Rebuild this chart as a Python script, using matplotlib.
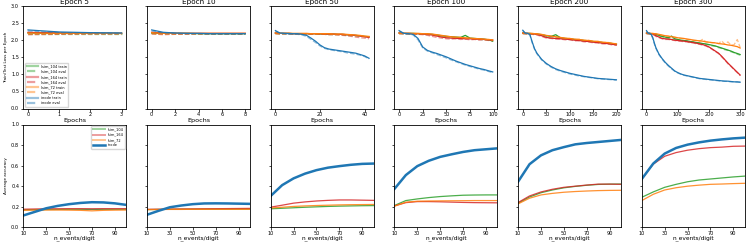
import matplotlib
matplotlib.use("Agg")
import matplotlib.pyplot as plt
from matplotlib.lines import Line2D

# ---------------- data ----------------
titles = ["Epoch 5", "Epoch 10", "Epoch 50", "Epoch 100", "Epoch 200", "Epoch 300"]
models = ["lsim_104", "lsim_164", "lsim_72", "inode"]
colors = ["#2ca02c", "#d62728", "#ff7f0e", "#1f77b4"]

# Epoch 5 losses
e5_x = [0, 1, 2, 3]
e5_lsim104_train = [2.21, 2.20, 2.20, 2.20]
e5_lsim104_eval = [2.19, 2.19, 2.19, 2.19]
e5_lsim164_train = [2.23, 2.21, 2.20, 2.20]
e5_lsim164_eval = [2.16, 2.17, 2.18, 2.18]
e5_lsim72_train = [2.21, 2.20, 2.20, 2.20]
e5_lsim72_eval = [2.17, 2.18, 2.18, 2.18]
e5_inode_train = [2.30, 2.24, 2.22, 2.21]
e5_inode_eval = [2.27, 2.22, 2.21, 2.20]

# Epoch 10 losses
e10_x = [0, 1, 2, 3, 4, 5, 6, 7, 8]
e10_lsim104_train = [2.21, 2.20, 2.20, 2.20, 2.19, 2.19, 2.19, 2.19, 2.19]
e10_lsim104_eval = [2.19, 2.18, 2.18, 2.18, 2.18, 2.17, 2.17, 2.17, 2.17]
e10_lsim164_train = [2.23, 2.21, 2.20, 2.20, 2.20, 2.20, 2.20, 2.20, 2.20]
e10_lsim164_eval = [2.18, 2.16, 2.17, 2.17, 2.18, 2.18, 2.18, 2.18, 2.18]
e10_lsim72_train = [2.22, 2.20, 2.20, 2.20, 2.20, 2.20, 2.20, 2.20, 2.20]
e10_lsim72_eval = [2.19, 2.17, 2.17, 2.18, 2.18, 2.18, 2.18, 2.18, 2.18]
e10_inode_train = [2.30, 2.23, 2.21, 2.20, 2.20, 2.19, 2.19, 2.19, 2.19]
e10_inode_eval = [2.27, 2.21, 2.20, 2.19, 2.19, 2.18, 2.18, 2.18, 2.18]

# Epoch 50 losses
e50_x = [0, 2, 4, 6, 8, 10, 12, 14, 16, 18, 20, 22, 24, 26, 28, 30, 32, 34, 36, 38, 40, 42]
e50_lsim104_train = [2.21, 2.20, 2.20, 2.20, 2.19, 2.19, 2.19, 2.19, 2.19, 2.19, 2.18, 2.18, 2.18, 2.18, 2.17, 2.17, 2.16, 2.15, 2.14, 2.13, 2.11, 2.10]
e50_lsim104_eval = [2.19, 2.18, 2.18, 2.18, 2.18, 2.18, 2.18, 2.17, 2.17, 2.17, 2.17, 2.17, 2.16, 2.16, 2.16, 2.15, 2.14, 2.13, 2.12, 2.11, 2.10, 2.08]
e50_lsim164_train = [2.21, 2.20, 2.20, 2.20, 2.19, 2.19, 2.19, 2.19, 2.19, 2.19, 2.19, 2.18, 2.18, 2.18, 2.17, 2.17, 2.16, 2.15, 2.14, 2.12, 2.10, 2.08]
e50_lsim164_eval = [2.19, 2.18, 2.18, 2.18, 2.18, 2.18, 2.18, 2.18, 2.17, 2.18, 2.17, 2.17, 2.16, 2.16, 2.15, 2.14, 2.13, 2.11, 2.09, 2.07, 2.06, 2.04]
e50_lsim72_train = [2.21, 2.20, 2.20, 2.20, 2.20, 2.20, 2.20, 2.20, 2.19, 2.19, 2.19, 2.19, 2.19, 2.18, 2.18, 2.18, 2.17, 2.16, 2.15, 2.14, 2.12, 2.11]
e50_lsim72_eval = [2.19, 2.18, 2.18, 2.19, 2.18, 2.18, 2.18, 2.18, 2.18, 2.17, 2.18, 2.17, 2.17, 2.17, 2.16, 2.16, 2.15, 2.14, 2.13, 2.12, 2.11, 2.09]
e50_inode_train = [2.28, 2.21, 2.20, 2.19, 2.19, 2.19, 2.17, 2.14, 2.06, 1.97, 1.86, 1.78, 1.74, 1.72, 1.70, 1.68, 1.66, 1.64, 1.62, 1.58, 1.54, 1.47]
e50_inode_eval = [2.26, 2.20, 2.19, 2.18, 2.18, 2.17, 2.15, 2.11, 2.02, 1.93, 1.83, 1.76, 1.72, 1.70, 1.68, 1.66, 1.63, 1.61, 1.59, 1.56, 1.52, 1.45]

# Epoch 100 losses
e100_x = [0, 5, 10, 15, 20, 25, 30, 35, 40, 45, 50, 55, 60, 65, 70, 75, 80, 85, 90, 95, 99]
e100_lsim104_train = [2.21, 2.20, 2.20, 2.20, 2.19, 2.19, 2.18, 2.17, 2.15, 2.13, 2.11, 2.10, 2.09, 2.08, 2.14, 2.06, 2.05, 2.04, 2.03, 2.01, 1.97]
e100_lsim104_eval = [2.19, 2.18, 2.18, 2.18, 2.18, 2.17, 2.16, 2.15, 2.13, 2.11, 2.10, 2.08, 2.07, 2.06, 2.05, 2.05, 2.03, 2.02, 2.01, 2.00, 1.98]
e100_lsim164_train = [2.21, 2.20, 2.20, 2.19, 2.19, 2.18, 2.17, 2.15, 2.12, 2.09, 2.07, 2.06, 2.05, 2.05, 2.04, 2.04, 2.03, 2.03, 2.02, 2.01, 2.00]
e100_lsim164_eval = [2.19, 2.18, 2.18, 2.18, 2.17, 2.16, 2.14, 2.11, 2.08, 2.06, 2.04, 2.03, 2.04, 2.02, 2.03, 2.01, 2.02, 2.00, 2.01, 1.99, 1.98]
e100_lsim72_train = [2.21, 2.20, 2.20, 2.20, 2.20, 2.19, 2.19, 2.18, 2.16, 2.14, 2.12, 2.10, 2.09, 2.08, 2.07, 2.06, 2.05, 2.04, 2.03, 2.02, 2.01]
e100_lsim72_eval = [2.19, 2.19, 2.18, 2.18, 2.18, 2.18, 2.17, 2.16, 2.14, 2.12, 2.10, 2.09, 2.07, 2.08, 2.05, 2.06, 2.03, 2.04, 2.01, 2.02, 1.99]
e100_inode_train = [2.28, 2.20, 2.19, 2.17, 2.05, 1.80, 1.70, 1.65, 1.61, 1.56, 1.51, 1.45, 1.39, 1.34, 1.29, 1.25, 1.21, 1.17, 1.14, 1.10, 1.07]
e100_inode_eval = [2.26, 2.19, 2.18, 2.15, 2.01, 1.77, 1.68, 1.63, 1.58, 1.53, 1.48, 1.42, 1.37, 1.32, 1.27, 1.23, 1.19, 1.15, 1.12, 1.08, 1.05]

# Epoch 200 losses
e200_x = [0, 5, 10, 15, 20, 25, 30, 40, 50, 60, 70, 80, 90, 100, 110, 120, 130, 140, 150, 160, 170, 180, 190, 199]
e200_lsim104_train = [2.21, 2.20, 2.20, 2.20, 2.19, 2.19, 2.18, 2.16, 2.13, 2.11, 2.16, 2.07, 2.05, 2.04, 2.02, 2.01, 1.99, 1.98, 1.96, 1.95, 1.93, 1.92, 1.90, 1.88]
e200_lsim104_eval = [2.19, 2.19, 2.18, 2.18, 2.18, 2.17, 2.17, 2.14, 2.11, 2.09, 2.08, 2.05, 2.04, 2.02, 2.01, 1.99, 1.98, 1.96, 1.95, 1.93, 1.92, 1.90, 1.89, 1.87]
e200_lsim164_train = [2.21, 2.20, 2.20, 2.19, 2.19, 2.18, 2.17, 2.13, 2.08, 2.06, 2.05, 2.04, 2.03, 2.02, 2.00, 1.99, 1.97, 1.96, 1.94, 1.93, 1.91, 1.90, 1.88, 1.86]
e200_lsim164_eval = [2.19, 2.18, 2.18, 2.18, 2.17, 2.16, 2.15, 2.11, 2.06, 2.05, 2.03, 2.03, 2.01, 2.01, 1.98, 1.98, 1.95, 1.95, 1.92, 1.92, 1.89, 1.89, 1.86, 1.85]
e200_lsim72_train = [2.21, 2.20, 2.20, 2.20, 2.20, 2.19, 2.19, 2.17, 2.14, 2.12, 2.10, 2.08, 2.06, 2.05, 2.03, 2.02, 2.00, 1.99, 1.97, 1.96, 1.94, 1.93, 1.91, 1.89]
e200_lsim72_eval = [2.19, 2.19, 2.18, 2.19, 2.18, 2.18, 2.17, 2.16, 2.13, 2.11, 2.09, 2.08, 2.05, 2.05, 2.02, 2.03, 1.99, 2.00, 1.96, 1.97, 1.93, 1.94, 1.90, 1.90]
e200_inode_train = [2.29, 2.21, 2.20, 2.17, 1.95, 1.75, 1.62, 1.44, 1.32, 1.23, 1.16, 1.11, 1.07, 1.03, 1.00, 0.97, 0.94, 0.92, 0.90, 0.88, 0.87, 0.86, 0.85, 0.84]
e200_inode_eval = [2.27, 2.20, 2.19, 2.15, 1.92, 1.73, 1.60, 1.42, 1.30, 1.21, 1.14, 1.09, 1.05, 1.01, 0.98, 0.95, 0.93, 0.91, 0.89, 0.87, 0.86, 0.85, 0.84, 0.83]

# Epoch 300 losses
e300_x = [0, 5, 10, 15, 20, 25, 30, 40, 50, 60, 70, 80, 90, 100, 110, 120, 130, 140, 150, 160, 170, 180, 190, 200, 210, 220, 230, 240, 250, 260, 270, 280, 290, 299]
e300_lsim104_train = [2.21, 2.20, 2.20, 2.19, 2.19, 2.18, 2.17, 2.14, 2.11, 2.09, 2.07, 2.12, 2.04, 2.02, 2.00, 1.99, 1.98, 1.96, 1.95, 1.93, 1.92, 1.90, 1.89, 1.87, 1.85, 1.83, 1.80, 1.77, 1.74, 1.71, 1.68, 1.64, 1.61, 1.58]
e300_lsim104_eval = [2.19, 2.19, 2.18, 2.18, 2.17, 2.17, 2.15, 2.12, 2.10, 2.07, 2.06, 2.04, 2.03, 2.01, 1.99, 1.98, 1.96, 1.95, 1.93, 1.92, 1.90, 1.89, 1.87, 1.86, 1.83, 1.82, 1.78, 1.76, 1.72, 1.70, 1.66, 1.63, 1.59, 1.56]
e300_lsim164_train = [2.21, 2.20, 2.20, 2.19, 2.18, 2.16, 2.13, 2.09, 2.05, 2.04, 2.03, 2.02, 2.00, 1.99, 1.98, 1.97, 1.96, 1.94, 1.93, 1.91, 1.89, 1.87, 1.84, 1.80, 1.74, 1.68, 1.62, 1.53, 1.43, 1.33, 1.24, 1.15, 1.06, 0.98]
e300_lsim164_eval = [2.19, 2.18, 2.18, 2.17, 2.16, 2.14, 2.11, 2.07, 2.04, 2.02, 2.02, 2.00, 1.99, 1.97, 1.97, 1.95, 1.95, 1.92, 1.92, 1.89, 1.88, 1.85, 1.83, 1.78, 1.73, 1.66, 1.61, 1.51, 1.42, 1.31, 1.23, 1.13, 1.05, 0.96]
e300_lsim72_train = [2.21, 2.20, 2.20, 2.20, 2.20, 2.19, 2.19, 2.17, 2.15, 2.13, 2.12, 2.10, 2.09, 2.07, 2.06, 2.05, 2.03, 2.02, 2.00, 1.99, 1.98, 1.97, 1.95, 1.94, 1.93, 1.92, 1.90, 1.89, 1.88, 1.86, 1.85, 1.83, 1.81, 1.77]
e300_lsim72_eval = [2.19, 2.19, 2.18, 2.19, 2.18, 2.18, 2.17, 2.16, 2.14, 2.12, 2.11, 2.09, 2.08, 2.07, 2.05, 2.04, 2.03, 2.01, 2.00, 1.99, 1.97, 2.03, 1.95, 1.94, 1.92, 1.93, 1.90, 1.98, 1.88, 1.95, 1.85, 1.87, 2.02, 1.79]
e300_inode_train = [2.28, 2.21, 2.20, 2.17, 2.08, 1.92, 1.78, 1.59, 1.46, 1.35, 1.26, 1.18, 1.10, 1.05, 1.01, 0.98, 0.96, 0.94, 0.92, 0.90, 0.88, 0.87, 0.86, 0.85, 0.84, 0.83, 0.82, 0.81, 0.80, 0.80, 0.79, 0.78, 0.78, 0.77]
e300_inode_eval = [2.26, 2.20, 2.19, 2.15, 2.05, 1.89, 1.76, 1.57, 1.44, 1.33, 1.24, 1.16, 1.09, 1.04, 1.00, 0.97, 0.95, 0.93, 0.91, 0.89, 0.87, 0.86, 0.85, 0.84, 0.83, 0.82, 0.81, 0.80, 0.80, 0.79, 0.78, 0.78, 0.77, 0.77]

# accuracy vs n_events/digit
n_events = [10, 20, 30, 40, 50, 60, 70, 80, 90, 100]
acc_e5_lsim104 = [0.170, 0.172, 0.173, 0.174, 0.175, 0.175, 0.174, 0.175, 0.175, 0.175]
acc_e5_lsim164 = [0.176, 0.178, 0.180, 0.180, 0.181, 0.181, 0.180, 0.181, 0.181, 0.181]
acc_e5_lsim72 = [0.165, 0.167, 0.168, 0.168, 0.167, 0.165, 0.160, 0.165, 0.167, 0.168]
acc_e5_inode = [0.115, 0.150, 0.185, 0.208, 0.225, 0.237, 0.244, 0.242, 0.233, 0.218]
acc_e10_lsim104 = [0.172, 0.174, 0.175, 0.176, 0.176, 0.177, 0.177, 0.177, 0.178, 0.178]
acc_e10_lsim164 = [0.175, 0.176, 0.177, 0.178, 0.179, 0.180, 0.181, 0.182, 0.183, 0.184]
acc_e10_lsim72 = [0.172, 0.173, 0.174, 0.174, 0.175, 0.175, 0.175, 0.175, 0.175, 0.175]
acc_e10_inode = [0.122, 0.160, 0.195, 0.212, 0.225, 0.232, 0.233, 0.232, 0.230, 0.228]
acc_e50_lsim104 = [0.180, 0.185, 0.190, 0.195, 0.199, 0.203, 0.206, 0.208, 0.210, 0.211]
acc_e50_lsim164 = [0.196, 0.215, 0.235, 0.247, 0.256, 0.262, 0.266, 0.266, 0.264, 0.262]
acc_e50_lsim72 = [0.188, 0.195, 0.203, 0.208, 0.212, 0.215, 0.218, 0.220, 0.221, 0.222]
acc_e50_inode = [0.305, 0.410, 0.476, 0.522, 0.556, 0.580, 0.595, 0.608, 0.617, 0.620]
acc_e100_lsim104 = [0.212, 0.260, 0.276, 0.289, 0.299, 0.306, 0.312, 0.314, 0.315, 0.315]
acc_e100_lsim164 = [0.208, 0.240, 0.250, 0.250, 0.248, 0.245, 0.242, 0.240, 0.239, 0.238]
acc_e100_lsim72 = [0.205, 0.244, 0.254, 0.256, 0.257, 0.258, 0.259, 0.260, 0.260, 0.260]
acc_e100_inode = [0.373, 0.508, 0.595, 0.647, 0.685, 0.710, 0.733, 0.750, 0.759, 0.768]
acc_e200_lsim104 = [0.235, 0.295, 0.336, 0.363, 0.384, 0.398, 0.409, 0.417, 0.420, 0.421]
acc_e200_lsim164 = [0.241, 0.305, 0.344, 0.370, 0.389, 0.400, 0.411, 0.420, 0.420, 0.418]
acc_e200_lsim72 = [0.228, 0.283, 0.315, 0.330, 0.341, 0.348, 0.353, 0.357, 0.359, 0.360]
acc_e200_inode = [0.444, 0.614, 0.700, 0.750, 0.780, 0.807, 0.820, 0.830, 0.840, 0.850]
acc_e300_lsim104 = [0.292, 0.344, 0.389, 0.418, 0.443, 0.460, 0.470, 0.480, 0.490, 0.498]
acc_e300_lsim164 = [0.470, 0.614, 0.691, 0.727, 0.750, 0.765, 0.775, 0.780, 0.788, 0.790]
acc_e300_lsim72 = [0.260, 0.321, 0.363, 0.385, 0.400, 0.410, 0.418, 0.421, 0.425, 0.428]
acc_e300_inode = [0.470, 0.620, 0.717, 0.772, 0.804, 0.826, 0.843, 0.855, 0.865, 0.872]

loss_x = [e5_x, e10_x, e50_x, e100_x, e200_x, e300_x]
loss_series = [
    [e5_lsim104_train, e5_lsim104_eval, e5_lsim164_train, e5_lsim164_eval, e5_lsim72_train, e5_lsim72_eval, e5_inode_train, e5_inode_eval],
    [e10_lsim104_train, e10_lsim104_eval, e10_lsim164_train, e10_lsim164_eval, e10_lsim72_train, e10_lsim72_eval, e10_inode_train, e10_inode_eval],
    [e50_lsim104_train, e50_lsim104_eval, e50_lsim164_train, e50_lsim164_eval, e50_lsim72_train, e50_lsim72_eval, e50_inode_train, e50_inode_eval],
    [e100_lsim104_train, e100_lsim104_eval, e100_lsim164_train, e100_lsim164_eval, e100_lsim72_train, e100_lsim72_eval, e100_inode_train, e100_inode_eval],
    [e200_lsim104_train, e200_lsim104_eval, e200_lsim164_train, e200_lsim164_eval, e200_lsim72_train, e200_lsim72_eval, e200_inode_train, e200_inode_eval],
    [e300_lsim104_train, e300_lsim104_eval, e300_lsim164_train, e300_lsim164_eval, e300_lsim72_train, e300_lsim72_eval, e300_inode_train, e300_inode_eval],
]
acc_series = [
    [acc_e5_lsim104, acc_e5_lsim164, acc_e5_lsim72, acc_e5_inode],
    [acc_e10_lsim104, acc_e10_lsim164, acc_e10_lsim72, acc_e10_inode],
    [acc_e50_lsim104, acc_e50_lsim164, acc_e50_lsim72, acc_e50_inode],
    [acc_e100_lsim104, acc_e100_lsim164, acc_e100_lsim72, acc_e100_inode],
    [acc_e200_lsim104, acc_e200_lsim164, acc_e200_lsim72, acc_e200_inode],
    [acc_e300_lsim104, acc_e300_lsim164, acc_e300_lsim72, acc_e300_inode],
]
loss_xticks = [[0, 1, 2, 3], [0, 2, 4, 6, 8], [0, 20, 40], [0, 25, 50, 75, 100], [0, 50, 100, 150, 200], [0, 100, 200, 300]]

# ---------------- plot ----------------
plt.rcParams.update({
    "font.size": 3.6,
    "axes.linewidth": 0.6,
    "xtick.major.size": 1.8,
    "ytick.major.size": 1.8,
    "xtick.major.width": 0.5,
    "ytick.major.width": 0.5,
    "xtick.major.pad": 0.6,
    "ytick.major.pad": 1.2,
    "xtick.labelsize": 3.6,
    "ytick.labelsize": 3.6,
})

W, H = 747, 242
fig = plt.figure(figsize=(W / 100, H / 100), dpi=100)
col_left = [23.3 + i * 123.7 for i in range(6)]
aw = 103.0
top_y0, top_y1 = 6.0, 108.5
bot_y0, bot_y1 = 124.5, 227.3

for i in range(6):
    ax = fig.add_axes([col_left[i] / W, 1 - top_y1 / H, aw / W, (top_y1 - top_y0) / H])
    xs = loss_x[i]
    for k, m in enumerate(models):
        ax.plot(xs, loss_series[i][2 * k], color=colors[k], lw=0.9, ls="-")
        ax.plot(xs, loss_series[i][2 * k + 1], color=colors[k], lw=0.9, ls="--", alpha=0.5)
    ax.set_ylim(0, 3.0)
    ax.set_yticks([0.0, 0.5, 1.0, 1.5, 2.0, 2.5, 3.0])
    ax.set_xticks(loss_xticks[i])
    ax.set_title(titles[i], fontsize=5.2, pad=1.5)
    ax.set_xlabel("Epochs", fontsize=4.6, labelpad=0.8)
    if i == 0:
        ax.set_ylabel("Train/Test Loss per Epoch", fontsize=3.0, labelpad=2)
        handles = []
        labels = []
        for k, m in enumerate(models):
            handles.append(Line2D([], [], color=colors[k], lw=1.6, ls="-", alpha=0.45))
            labels.append(m + " train")
            handles.append(Line2D([], [], color=colors[k], lw=1.6, ls="--", alpha=0.45))
            labels.append(m + " eval")
        ax.legend(handles, labels, loc="lower left", fontsize=2.6, handlelength=3.2,
                  labelspacing=0.35, borderpad=0.4, handletextpad=0.8, framealpha=0.8,
                  edgecolor="#cccccc", fancybox=True)
    else:
        ax.tick_params(labelleft=False)

for i in range(6):
    ax = fig.add_axes([col_left[i] / W, 1 - bot_y1 / H, aw / W, (bot_y1 - bot_y0) / H])
    for k, m in enumerate(models):
        if m == "inode":
            ax.plot(n_events, acc_series[i][k], color=colors[k], lw=1.8, label=m)
        else:
            ax.plot(n_events, acc_series[i][k], color=colors[k], lw=0.9, alpha=0.85, label=m)
    ax.set_xlim(10, 100)
    ax.set_ylim(0, 1.0)
    ax.set_xticks([10, 30, 50, 70, 90])
    ax.set_yticks([0.0, 0.2, 0.4, 0.6, 0.8, 1.0])
    ax.set_xlabel("n_events/digit", fontsize=4.2, labelpad=0.0)
    if i == 0:
        ax.set_ylabel("Average accuracy", fontsize=3.0, labelpad=2)
        handles = []
        for k, m in enumerate(models):
            if m == "inode":
                handles.append(Line2D([], [], color=colors[k], lw=1.8))
            else:
                handles.append(Line2D([], [], color=colors[k], lw=1.4, alpha=0.45))
        ax.legend(handles, models, loc="upper right", fontsize=2.5, handlelength=3.4,
                  labelspacing=0.35, borderpad=0.4, handletextpad=0.8, framealpha=0.8,
                  edgecolor="#cccccc", fancybox=True)
    else:
        ax.tick_params(labelleft=False)

fig.savefig("out.png", dpi=100)
